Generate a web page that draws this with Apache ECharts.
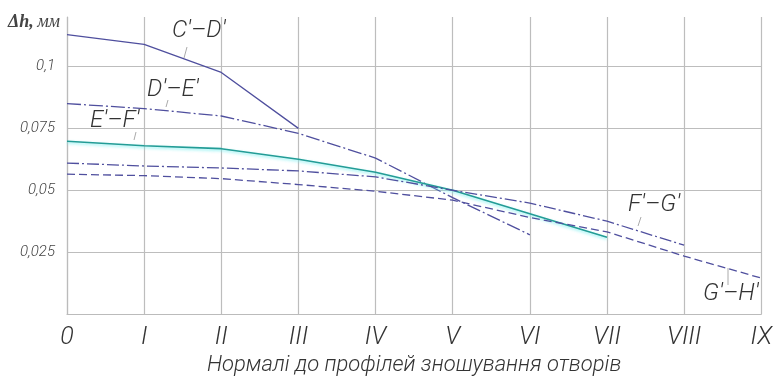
<!DOCTYPE html>
<html><head><meta charset="utf-8">
<script src="https://cdn.jsdelivr.net/npm/echarts@6/dist/echarts.min.js"></script>
<style>html,body{margin:0;padding:0;background:#fff}#c{width:775px;height:383px}</style>
</head><body><div id="c"></div>
<script>
var categories = ['0','I','II','III','IV','V','VI','VII','VIII','IX'];
var yTicks = [0.025, 0.05, 0.075, 0.1];
var seriesNames = ["C'–D'", "D'–E'", "E'–F'", "F'–G'", "G'–H'"];
var cd = [0.1129, 0.1089, 0.0976, 0.075];
var de = [0.085, 0.083, 0.080, 0.073, 0.063, 0.047, 0.032];
var ef = [0.0698, 0.068, 0.0668, 0.0625, 0.0573, 0.050, 0.0405, 0.031];
var fg = [0.061, 0.0598, 0.059, 0.0578, 0.0554, 0.050, 0.0448, 0.0375, 0.0278];
var gh = [0.0565, 0.0559, 0.0547, 0.0523, 0.0496, 0.046, 0.039, 0.0332, 0.0234, 0.0145];
var xTitle = 'Нормалі до профілей зношування отворів';

var FONT = "Roboto, 'DejaVu Sans Condensed', sans-serif";
var LC = '#4f4f9e';
var chart = echarts.init(document.getElementById('c'));
function ln(name, data, type, color, w, extra) {
  var s = {name: name, type: 'line', data: data, symbol: 'none', silent: true,
    lineStyle: {color: color, width: w, type: type}};
  if (extra) Object.assign(s.lineStyle, extra);
  return s;
}
function lbl(t, x, y) {
  return {type: 'text', left: x, top: y, style: {text: t, font: 'italic 300 24px ' + FONT, fill: '#333'}};
}
function lead(x1, y1, x2, y2) {
  return {type: 'line', shape: {x1: x1, y1: y1, x2: x2, y2: y2}, style: {stroke: '#aaa', lineWidth: 1}};
}
chart.setOption({
  animation: false,
  grid: {left: 67, right: 10, top: 17, bottom: 69},
  xAxis: {
    type: 'category', data: categories, boundaryGap: false,
    axisLine: {lineStyle: {color: '#bbb', width: 1.2}},
    axisTick: {show: false},
    splitLine: {show: true, lineStyle: {color: '#bdbdbd', width: 1.2}},
    axisLabel: {fontFamily: FONT, fontStyle: 'italic', fontWeight: 300, fontSize: 25, color: '#333', margin: 11},
    name: xTitle, nameLocation: 'middle', nameGap: 40,
    nameTextStyle: {fontFamily: FONT, fontStyle: 'italic', fontWeight: 300, fontSize: 22, color: '#333'}
  },
  yAxis: {
    type: 'value', min: 0, max: 0.12, interval: 0.025,
    axisLine: {show: true, lineStyle: {color: '#bbb', width: 1.2}},
    axisTick: {show: false},
    splitLine: {show: true, lineStyle: {color: ['#bdbdbd','#bdbdbd','#bdbdbd','#bdbdbd','#bdbdbd','rgba(0,0,0,0)'], width: 1.2}},
    axisLabel: {fontFamily: FONT, fontStyle: 'italic', fontWeight: 300, fontSize: 15, color: '#444', margin: 12,
      formatter: function (v) {
        for (var i = 0; i < yTicks.length; i++) if (Math.abs(yTicks[i] - v) < 1e-9) return String(yTicks[i]).replace('.', ',');
        return '';
      }}
  },
  graphic: [
    {type: 'text', left: 8, top: 13, style: {
      rich: {a: {font: 'italic bold 18px "Liberation Serif",serif', fill: '#444'}, b: {font: 'italic 18px "Liberation Serif",serif', fill: '#444'}},
      text: '{a|Δh,} {b|мм}'}},
    lbl(seriesNames[0], 172, 19), lead(187, 47, 184, 58),
    lbl(seriesNames[1], 147, 78), lead(168, 100, 166, 107),
    lbl(seriesNames[2], 90, 109), lead(136, 132, 134, 140),
    lbl(seriesNames[3], 628, 193), lead(641, 217, 638, 226),
    lbl(seriesNames[4], 703, 282), lead(728, 268, 728, 285)
  ],
  series: [
    ln(seriesNames[0], cd, 'solid', LC, 1.3),
    ln(seriesNames[1], de, [14, 3, 2, 3], LC, 1.3),
    ln(seriesNames[2], ef, 'solid', '#239c96', 1.6, {shadowColor: 'rgba(120,240,240,0.9)', shadowBlur: 3, shadowOffsetY: 1.5}),
    ln(seriesNames[3], fg, [12, 3, 2, 3], LC, 1.3),
    ln(seriesNames[4], gh, [8, 4], LC, 1.3)
  ]
});
</script></body></html>
